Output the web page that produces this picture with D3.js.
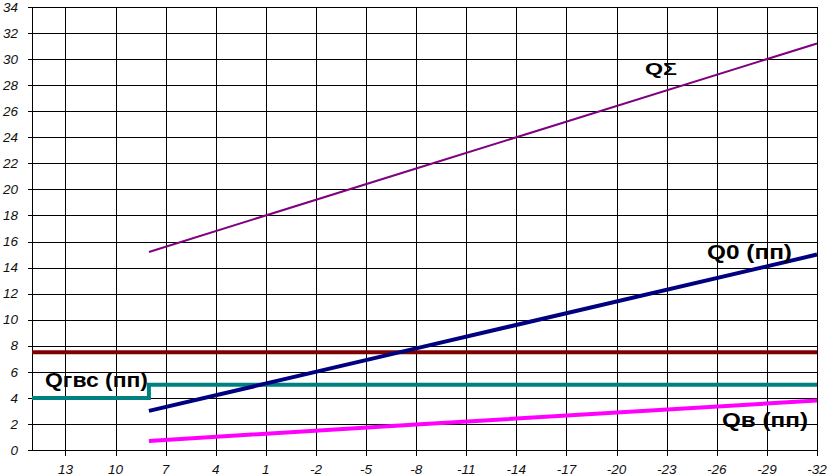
<!DOCTYPE html>
<html>
<head>
<meta charset="utf-8">
<script src="https://cdn.jsdelivr.net/npm/d3@7"></script>
<style>
  html, body { margin: 0; padding: 0; background: #fff; }
  svg { display: block; }
</style>
</head>
<body>
<svg id="chart" width="831" height="476"></svg>
<script>
// ---- data ----
const xTicks = [13, 10, 7, 4, 1, -2, -5, -8, -11, -14, -17, -20, -23, -26, -29, -32];
const yTicks = [0, 2, 4, 6, 8, 10, 12, 14, 16, 18, 20, 22, 24, 26, 28, 30, 32, 34];

const slopeX   = [8, -8, -32];
const qSum     = [15.2, 21.6, 31.2];   // QΣ
const q0       = [3.0, 7.8, 15.0];     // Q0 (пп)
const qv       = [0.7, 1.95, 3.8];     // Qв (пп)

const flatX    = [15, -32];
const qFlat    = [7.5, 7.5];           // dark red level

const gvsX     = [15, 8, 8, -32];
const qGvs     = [4.0, 4.0, 5.0, 5.0]; // Qгвс (пп)

const seriesLabels = ["QΣ", "Q0 (пп)", "Qгвс (пп)", "Qв (пп)"];

// ---- drawing ----
const svg = d3.select("#chart");
const x = d3.scaleLinear().domain([15, -32]).range([32, 817]);
const y = d3.scaleLinear().domain([0, 34]).range([450, 7]);
const px = v => Math.round(x(v)) + 0.5;
const py = v => Math.round(y(v)) + 0.5;

const font = "'Liberation Sans', Arial, sans-serif";
const grid = svg.append("g").attr("shape-rendering", "crispEdges");

// horizontal grid lines + left tick marks
grid.selectAll("line.h").data(yTicks).enter().append("line")
  .attr("class", "h")
  .attr("x1", px(15) - 5).attr("x2", px(-32))
  .attr("y1", d => py(d)).attr("y2", d => py(d))
  .attr("stroke", "#000").attr("stroke-width", 1);

// vertical grid lines + bottom tick marks
grid.selectAll("line.v").data(xTicks).enter().append("line")
  .attr("class", "v")
  .attr("x1", d => px(d)).attr("x2", d => px(d))
  .attr("y1", py(34)).attr("y2", py(0) + 5)
  .attr("stroke", "#000").attr("stroke-width", 1);

// left axis line
grid.append("line")
  .attr("x1", px(15)).attr("x2", px(15)).attr("y1", py(34)).attr("y2", py(0))
  .attr("stroke", "#000").attr("stroke-width", 1);

// y tick labels
svg.selectAll("text.yl").data(yTicks).enter().append("text")
  .attr("class", "yl")
  .attr("x", 18).attr("y", d => y(d)).attr("dy", "0.35em")
  .attr("text-anchor", "end")
  .attr("font-family", font).attr("font-style", "italic").attr("font-size", "13.5px")
  .attr("fill", "#111")
  .text(d => d);

// x tick labels
svg.selectAll("text.xl").data(xTicks).enter().append("text")
  .attr("class", "xl")
  .attr("x", d => x(d)).attr("y", 473.5)
  .attr("text-anchor", "middle")
  .attr("font-family", font).attr("font-style", "italic").attr("font-size", "13.5px")
  .attr("fill", "#111")
  .text(d => d < 0 ? "-" + Math.abs(d) : String(d));

const line = d3.line().x(d => x(d[0])).y(d => y(d[1]));
function drawSeries(xs, ys, color, width) {
  svg.append("path")
    .datum(xs.map((v, i) => [v, ys[i]]))
    .attr("d", line)
    .attr("fill", "none")
    .attr("stroke", color)
    .attr("stroke-width", width)
    .attr("stroke-linejoin", "miter");
}

drawSeries(flatX, qFlat, "#800000", 4);
drawSeries(gvsX, qGvs, "#008080", 4);
drawSeries(slopeX, qv, "#FF00FF", 4);
drawSeries(slopeX, q0, "#000080", 4);
drawSeries(slopeX, qSum, "#800080", 2);

// series labels
const labelPos = [
  { t: seriesLabels[0], x: 645, y: 74.5, len: 32, size: 16 },
  { t: seriesLabels[1], x: 707, y: 259, len: 85, size: 19.5 },
  { t: seriesLabels[2], x: 45, y: 387, len: 103, size: 19.5 },
  { t: seriesLabels[3], x: 722, y: 427, len: 86, size: 19.5 }
];
svg.selectAll("text.slabel")
  .data(labelPos)
  .enter().append("text")
  .attr("class", "slabel")
  .attr("x", d => d.x).attr("y", d => d.y)
  .attr("font-family", font).attr("font-weight", "bold")
  .attr("font-size", d => d.size + "px")
  .attr("fill", "#000")
  .attr("textLength", d => d.len)
  .attr("lengthAdjust", "spacingAndGlyphs")
  .text(d => d.t);
</script>
</body>
</html>
